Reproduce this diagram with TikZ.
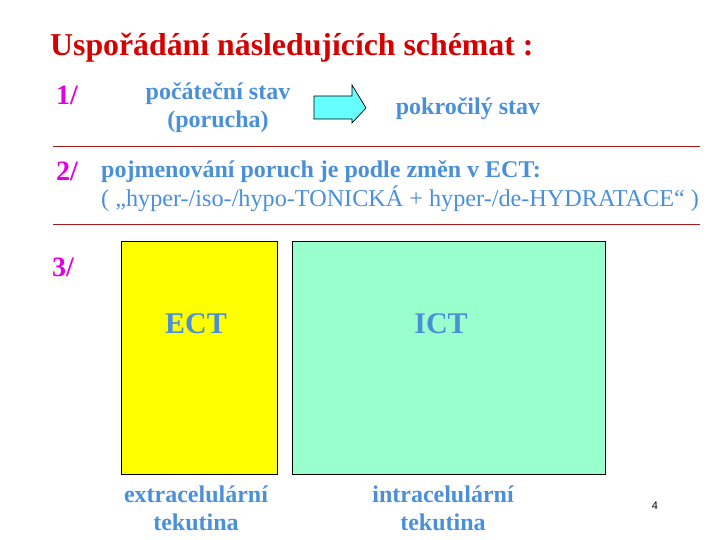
\documentclass[tikz,border=0pt]{standalone}
\usepackage{fontspec}
\setmainfont{Liberation Serif}
\setsansfont{Liberation Sans}
\definecolor{titlered}{RGB}{215,0,0}
\definecolor{textblue}{RGB}{74,144,217}
\definecolor{numpink}{RGB}{225,0,225}
\definecolor{rulered}{RGB}{170,25,25}
\definecolor{ectyellow}{RGB}{255,255,0}
\definecolor{ictgreen}{RGB}{153,255,204}
\definecolor{arrowcyan}{RGB}{102,255,255}
\begin{document}
\begin{tikzpicture}[x=1pt,y=-1pt]
    \tikzset{title/.style= {text=titlered,
                            font=\fontsize{31.8}{34}\selectfont\bfseries,
                            inner sep=0pt},
             num/.style=   {text=numpink,
                            font=\fontsize{28}{30}\selectfont\bfseries,
                            inner sep=0pt},
             note/.style=  {text=textblue,
                            align=center,
                            font=\fontsize{24}{28}\selectfont\bfseries,
                            inner sep=0pt},
             plain/.style= {text=textblue,
                            font=\fontsize{24.2}{28}\selectfont,
                            inner sep=0pt},
             big/.style=   {text=textblue,
                            font=\fontsize{30}{32}\selectfont\bfseries,
                            inner sep=0pt},
             box/.style=   {draw=black,
                            line width=1pt,
                            minimum height=233pt,
                            inner sep=0pt},
             rule/.style=  {draw=rulered,
                            line width=0.8pt},
            }
    \useasboundingbox (0,0) rectangle (720,540);
    \path
    (50,56)    node[title,anchor=base west](t) {Uspořádání následujících schémat :}
    (56,105)   node[num,anchor=base west](n1) {1/}
    (218,100)  node[note,anchor=base](s1) {počáteční stav}
    (218,128)  node[note,anchor=base](s2) {(porucha)}
    (468,115)  node[note,anchor=base](p) {pokročilý stav}
    (56,181)   node[num,anchor=base west](n2) {2/}
    (101,178)  node[note,anchor=base west](j) {pojmenování poruch je podle změn v ECT:}
    (101,207)  node[plain,anchor=base west](h) {( „hyper-/iso-/hypo-TONICKÁ + hyper-/de-HYDRATACE“ )}
    (52,276)   node[num,anchor=base west](n3) {3/}
    (199,357.5) node[box,fill=ectyellow,minimum width=156pt](e) {}
    (448.5,357.5) node[box,fill=ictgreen,minimum width=313pt](i) {}
    (196,333)  node[big,anchor=base](el) {ECT}
    (441,333)  node[big,anchor=base](il) {ICT}
    (196,502)  node[note,anchor=base](e1) {extracelulární}
    (196,530)  node[note,anchor=base](e2) {tekutina}
    (443,502)  node[note,anchor=base](i1) {intracelulární}
    (443,530)  node[note,anchor=base](i2) {tekutina}
    (655,509)  node[anchor=base,inner sep=0pt,font=\sffamily\fontsize{11}{12}\selectfont](pg) {4}
    ;
    \coordinate (r1a) at (53,146);
    \coordinate (r1b) at (700,146);
    \coordinate (r2a) at (53,224);
    \coordinate (r2b) at (700,224);
    \draw[rule] (r1a) -- (r1b);
    \draw[rule] (r2a) -- (r2b);
    % block arrow between the two states
    \draw[fill=arrowcyan,line width=0.7pt]
        (314,96) -- (352,96) -- (352,85) -- (366,108) -- (352,123)
        -- (352,119) -- (314,119) -- cycle;
\end{tikzpicture}
\end{document}
